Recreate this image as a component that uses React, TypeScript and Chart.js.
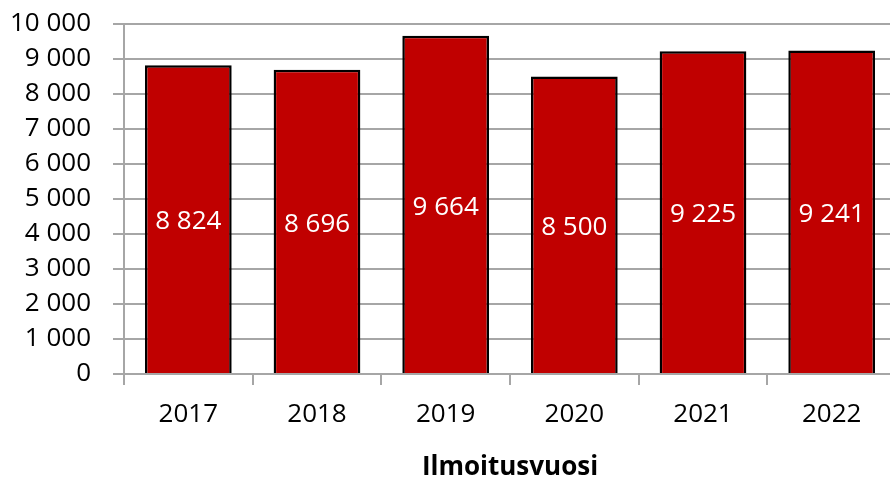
import React, { useEffect, useRef } from "react";
import { Chart, registerables } from "chart.js";

Chart.register(...registerables);

const categories = ["2017", "2018", "2019", "2020", "2021", "2022"];
const values = [8824, 8696, 9664, 8500, 9225, 9241];
const yTicks = [0, 1000, 2000, 3000, 4000, 5000, 6000, 7000, 8000, 9000, 10000];
const xTitle = "Ilmoitusvuosi";

const FONT = "'Open Sans', 'Noto Sans', sans-serif";

const fmt = (v: number) => String(Math.round(v)).replace(/\B(?=(\d{3})+(?!\d))/g, " ");

const labelPlugin = {
  id: "barLabels",
  afterDatasetsDraw(chart: any) {
    const ctx = chart.ctx;
    const meta = chart.getDatasetMeta(0);
    ctx.save();
    ctx.fillStyle = "#ffffff";
    ctx.font = `26px ${FONT}`;
    ctx.textAlign = "center";
    ctx.textBaseline = "middle";
    meta.data.forEach((el: any, i: number) => {
      const { x, y, base } = el.getProps(["x", "y", "base"], true);
      ctx.fillText(fmt(values[i]), x, (y + base) / 2 + 3);
    });
    ctx.restore();
  },
};

export default function App() {
  const ref = useRef<HTMLCanvasElement>(null);
  useEffect(() => {
    if (!ref.current) return;
    const chart = new Chart(ref.current, {
      type: "bar",
      data: {
        labels: categories,
        datasets: [
          {
            data: values,
            backgroundColor: "#C00000",
            borderColor: "#000000",
            borderWidth: 2.5,
            barPercentage: 0.674,
            categoryPercentage: 1,
          },
        ],
      },
      options: {
        responsive: false,
        animation: false,
        layout: { padding: { top: 24, right: 4, left: 0, bottom: 0 } },
        plugins: { legend: { display: false }, tooltip: { enabled: false } },
        scales: {
          y: {
            min: 0,
            max: 10000,
            afterFit: (s: any) => {
              s.width = 124;
              s.paddingTop = 0;
              s.paddingBottom = 0;
            },
            afterBuildTicks: (s: any) => {
              s.ticks = yTicks.map((v) => ({ value: v }));
            },
            border: { display: true, color: "#a6a6a6", width: 2 },
            grid: { color: "#a6a6a6", lineWidth: 2, tickLength: 11, drawTicks: true },
            ticks: {
              color: "#000000",
              padding: 22,
              autoSkip: false,
              stepSize: 1000,
              font: { family: FONT, size: 26 },
              callback: (v: any) => fmt(Number(v)),
            },
          },
          x: {
            afterFit: (s: any) => {
              s.height = 109;
              s.paddingLeft = 0;
              s.paddingRight = 0;
            },
            border: { display: true, color: "#a6a6a6", width: 2 },
            grid: {
              offset: true,
              drawOnChartArea: false,
              drawTicks: true,
              tickLength: 11,
              color: "#a6a6a6",
              lineWidth: 2,
            },
            ticks: {
              color: "#000000",
              padding: 14,
              font: { family: FONT, size: 26 },
            },
            title: {
              display: true,
              text: xTitle,
              color: "#000000",
              font: { family: FONT, size: 26, weight: "bold" },
              padding: { top: 0, bottom: 0 },
            },
          },
        },
      },
      plugins: [labelPlugin],
    });
    return () => chart.destroy();
  }, []);
  return (
    <div style={{ position: "absolute", left: 0, top: 0, width: 890, height: 483, overflow: "hidden" }}>
      <canvas ref={ref} width={900} height={483} style={{ display: "block" }} />
    </div>
  );
}
